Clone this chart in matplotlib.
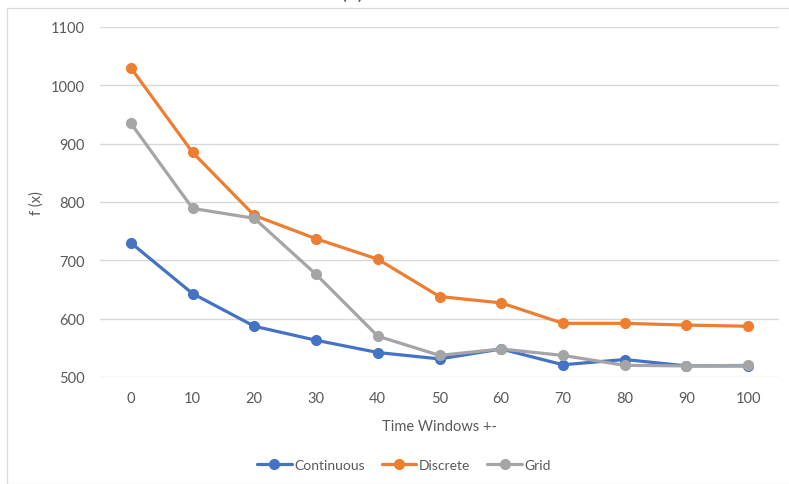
import matplotlib
matplotlib.use("Agg")
import matplotlib.pyplot as plt
from matplotlib.patches import Rectangle

plt.rcParams['font.family'] = ['Lato', 'DejaVu Sans']

windows = [0, 10, 20, 30, 40, 50, 60, 70, 80, 90, 100]
continuous = [730, 643, 587, 563, 542, 531, 548, 521, 530, 519, 519]
discrete = [1030, 885, 777, 737, 702, 638, 627, 592, 592, 589, 587]
grid = [935, 789, 772, 676, 570, 537, 548, 537, 520, 519, 520]

series = [
    ("Continuous", continuous, "#4472C4"),
    ("Discrete", discrete, "#ED7D31"),
    ("Grid", grid, "#A5A5A5"),
]

W, H = 789, 485
fig = plt.figure(figsize=(W / 100, H / 100), dpi=100)

# chart frame
fig.patches.append(Rectangle((7 / W, 0), 1.0, (H - 9) / H, transform=fig.transFigure,
                             fill=False, edgecolor="#D9D9D9", linewidth=0.9))
# title sitting just above the frame's top edge
fig.text(352 / W, 1 + 1 / H, "(c)", ha="center", va="baseline", fontsize=16, color="#595959")

ax = fig.add_axes([100 / W, (H - 378) / H, (779 - 100) / W, (378 - 28) / H])
pos = list(range(len(windows)))
for name, vals, col in series:
    ax.plot(pos, vals, color=col, linewidth=2.3, marker="o", markersize=7,
            label=name, solid_capstyle="round")

ax.set_xlim(-0.5, len(windows) - 0.5)
ax.set_ylim(500, 1100)
ax.set_yticks(range(500, 1101, 100))
ax.set_xticks(pos)
ax.set_xticklabels([str(w) for w in windows])
ax.grid(axis="y", color="#D9D9D9", linewidth=1.0)
ax.set_axisbelow(True)
for s in ax.spines.values():
    s.set_visible(False)
ax.tick_params(length=0, labelsize=10.5, colors="#595959", pad=10)
ax.tick_params(axis="y", pad=11)

ax.set_xlabel("Time Windows +-", fontsize=10.5, color="#595959", labelpad=10)
ax.set_ylabel("f (x)", fontsize=10.5, color="#595959", labelpad=5)

leg = fig.legend(loc="center", bbox_to_anchor=(404 / W, 1 - 466 / H), ncol=3, frameon=False,
                 fontsize=10, handlelength=2.5, columnspacing=1.2, handletextpad=0.2)
for t in leg.get_texts():
    t.set_color("#595959")

fig.savefig("out.png", dpi=100)
